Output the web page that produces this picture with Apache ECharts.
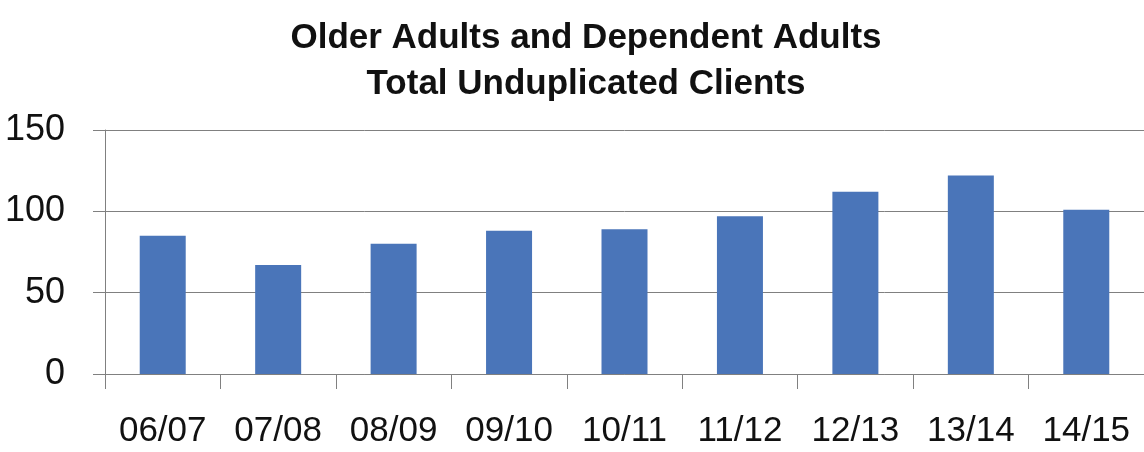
<!DOCTYPE html>
<html lang="en">
<head>
    <meta charset="UTF-8">
    <title>Total Unduplicated Clients</title>
    <style>
        body { margin: 0; background: #fff; }
    </style>
</head>
<body>
    <div id="chart-box" style="width:1144px; height:452px"></div>

    <script src="https://cdn.jsdelivr.net/npm/echarts@6/dist/echarts.min.js"></script>
    <script>
        // fiscal years
        const years = ['06/07', '07/08', '08/09', '09/10', '10/11', '11/12', '12/13', '13/14', '14/15'];
        // clients per year
        const clients = [85, 67, 80, 88, 89, 97, 112, 122, 101];
        const yTicks = [0, 50, 100, 150];

        const FONT = '"Liberation Sans", Arial, sans-serif';
        const oChart = echarts.init(document.querySelector('#chart-box'));

        oChart.setOption({
            animation: false,
            title: {
                text: 'Older Adults and Dependent Adults\nTotal Unduplicated Clients',
                left: 586,            // original title sits a little right of centre
                textAlign: 'center',
                top: 15,
                padding: 0,
                textStyle: {
                    fontFamily: FONT,
                    fontWeight: 'bold',
                    fontSize: 35,
                    lineHeight: 46,
                    color: '#111'
                }
            },
            grid: {
                left: 105,
                top: 130,
                width: 1041,
                height: 244,
                containLabel: false
            },
            xAxis: {
                type: 'category',
                data: years,
                axisLine: { lineStyle: { color: '#808080', width: 1 } },
                axisTick: { show: true, length: 15, lineStyle: { color: '#808080' } },
                axisLabel: {
                    margin: 40,
                    fontFamily: FONT,
                    fontSize: 35,
                    color: '#111'
                }
            },
            yAxis: {
                type: 'value',
                min: yTicks[0],
                max: yTicks[yTicks.length - 1],
                interval: 50,
                axisLine: { show: true, lineStyle: { color: '#808080', width: 1 } },
                axisTick: { show: true, length: 12, lineStyle: { color: '#808080' } },
                axisLabel: {
                    margin: 40,
                    fontFamily: FONT,
                    fontSize: 36,
                    color: '#111'
                },
                splitLine: { lineStyle: { color: '#808080', width: 1 } }
            },
            series: [{
                type: 'bar',
                data: clients,
                barWidth: 46,
                itemStyle: { color: '#4a75b9' }
            }]
        });
    </script>
</body>
</html>
